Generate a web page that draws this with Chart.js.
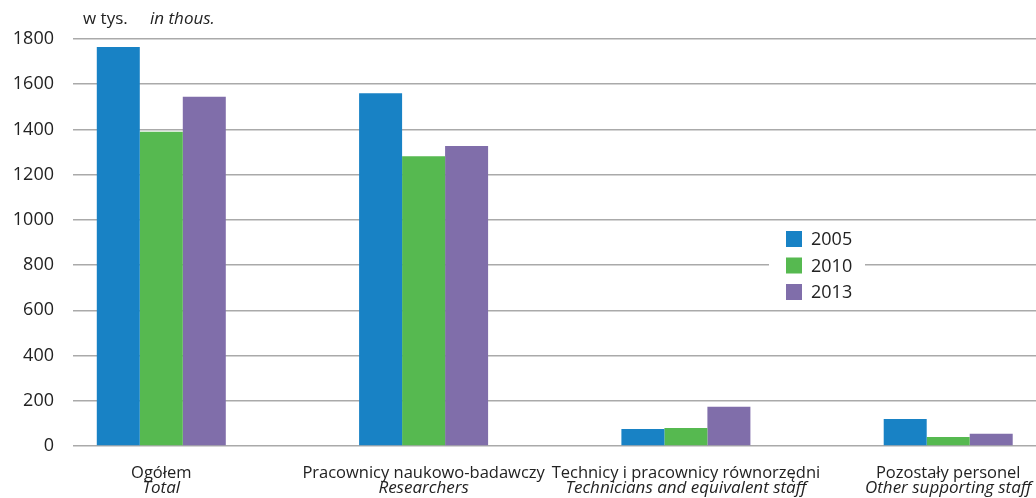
<!DOCTYPE html>
<html>
<head>
<meta charset="utf-8">
<script src="https://cdn.jsdelivr.net/npm/chart.js@4.4.1/dist/chart.umd.min.js"></script>
<style>
  html, body { margin: 0; padding: 0; background: #fff; overflow: hidden; }
  #wrap { width: 1036px; height: 498px; }
</style>
</head>
<body>
<div id="wrap"><canvas id="chartPersonel"></canvas></div>
<script>
// categories (Polish / English)
const categoriesPl = ['Ogółem', 'Pracownicy naukowo-badawczy', 'Technicy i pracownicy równorzędni', 'Pozostały personel'];
const categoriesEn = ['Total', 'Researchers', 'Technicians and equivalent staff', 'Other supporting staff'];

// values in thousands
const years = ['2005', '2010', '2013'];
const values2005 = [1765, 1560, 75, 119];
const values2010 = [1390, 1282, 80, 40];
const values2013 = [1545, 1327, 174, 54];

const yTicks = [0, 200, 400, 600, 800, 1000, 1200, 1400, 1600, 1800];
const colors = ['#1882c5', '#56b950', '#806eaa'];

const fontFamily = '"Open Sans", sans-serif';
const textColor = '#222222';

function toPoints(vals) {
    return vals.map((v, i) => ({ x: i, y: v }));
}

// header, english subtitles and legend box
const extrasPlugin = {
    id: 'extras',
    afterDraw(chart) {
        const ctx = chart.ctx;
        const xScale = chart.scales.x;
        ctx.save();
        ctx.fillStyle = textColor;
        ctx.textBaseline = 'middle';

        // unit header
        ctx.textAlign = 'left';
        ctx.font = '17px ' + fontFamily;
        ctx.fillText('w tys.', 83, 19);
        ctx.font = 'italic 17px ' + fontFamily;
        ctx.fillText('in thous.', 150, 19);

        // english category names
        ctx.textAlign = 'center';
        ctx.font = 'italic 17px ' + fontFamily;
        categoriesEn.forEach((label, i) => {
            ctx.fillText(label, xScale.getPixelForValue(i), 488);
        });

        // legend
        ctx.fillStyle = '#ffffff';
        ctx.fillRect(769, 224, 96, 82);
        ctx.textAlign = 'left';
        ctx.font = '18px ' + fontFamily;
        chart.data.datasets.forEach((ds, i) => {
            const y = 239 + i * 26.5;
            ctx.fillStyle = ds.backgroundColor;
            ctx.fillRect(786, y - 8, 16, 16);
            ctx.fillStyle = textColor;
            ctx.fillText(ds.label, 811, y + 1);
        });
        ctx.restore();
    }
};

function renderChart() {
    const ctx = document.getElementById('chartPersonel').getContext('2d');
    new Chart(ctx, {
        type: 'bar',
        data: {
            datasets: [
                { label: years[0], data: toPoints(values2005), backgroundColor: colors[0] },
                { label: years[1], data: toPoints(values2010), backgroundColor: colors[1] },
                { label: years[2], data: toPoints(values2013), backgroundColor: colors[2] }
            ]
        },
        options: {
            responsive: true,
            maintainAspectRatio: false,
            animation: false,
            layout: { padding: { top: 39, right: 0, left: 0, bottom: 0 } },
            datasets: {
                bar: { categoryPercentage: 0.4918, barPercentage: 1 }
            },
            plugins: {
                legend: { display: false },
                tooltip: { enabled: false }
            },
            scales: {
                x: {
                    type: 'linear',
                    offset: false,
                    min: -0.3366,
                    max: 3.3347,
                    grid: { display: false, offset: false },
                    border: { display: false },
                    ticks: {
                        stepSize: 1,
                        includeBounds: false,
                        autoSkip: false,
                        maxRotation: 0,
                        padding: 9,
                        color: textColor,
                        font: { family: fontFamily, size: 16.5 },
                        callback: (v) => Number.isInteger(v) ? categoriesPl[v] : ''
                    },
                    afterFit(scale) { scale.height = 52; }
                },
                y: {
                    min: 0,
                    max: 1800,
                    afterBuildTicks(scale) {
                        scale.ticks = yTicks.map(v => ({ value: v }));
                    },
                    grid: { color: '#aaaaaa', lineWidth: 1.5, drawTicks: false },
                    border: { display: false },
                    ticks: {
                        padding: 19,
                        color: textColor,
                        font: { family: fontFamily, size: 18 },
                        callback: (v) => String(v)
                    },
                    afterFit(scale) { scale.width = 73; }
                }
            }
        },
        plugins: [extrasPlugin]
    });
}

renderChart();
</script>
</body>
</html>
